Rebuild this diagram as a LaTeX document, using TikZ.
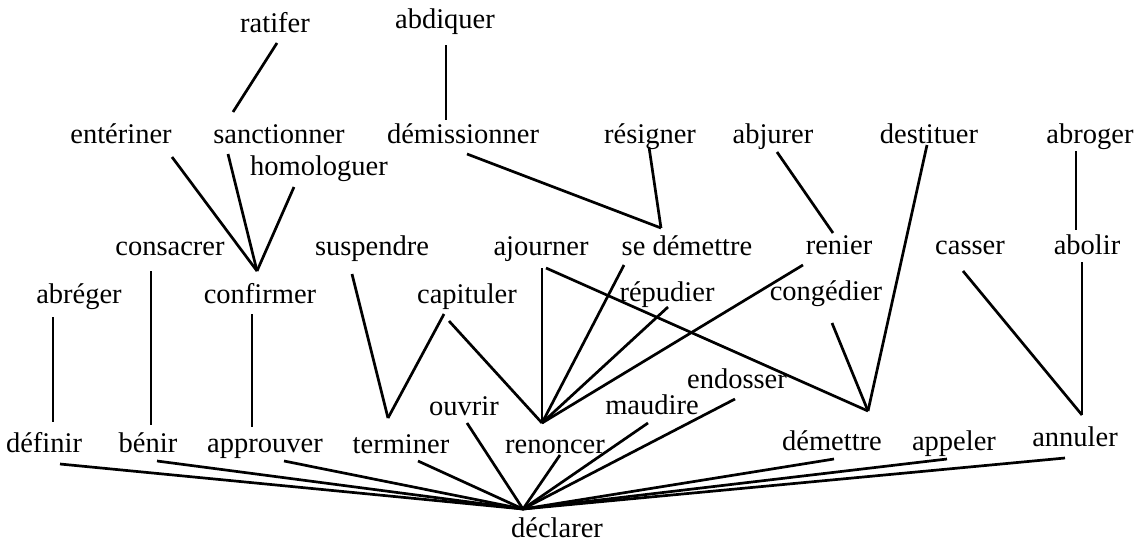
\documentclass[tikz,border=0pt]{standalone}
\usepackage{fontspec}
\setmainfont{Liberation Serif}
\begin{document}
\begin{tikzpicture}[x=1pt,y=-1pt,
  word/.style={anchor=base,inner sep=0pt,font=\fontsize{28.5}{30}\selectfont},
  link/.style={line width=2.7pt}]
\useasboundingbox (0,0) rectangle (1146,549);
% words
\node[word] (ratifer) at (275,32) {ratifer};
\node[word] (abdiquer) at (445,28) {abdiquer};
\node[word] (enteriner) at (121,143) {entériner};
\node[word] (sanctionner) at (279,143) {sanctionner};
\node[word] (homologuer) at (319,175) {homologuer};
\node[word] (demissionner) at (463,143) {démissionner};
\node[word] (resigner) at (650,143) {résigner};
\node[word] (abjurer) at (773,143) {abjurer};
\node[word] (destituer) at (929,143) {destituer};
\node[word] (abroger) at (1090,143) {abroger};
\node[word] (consacrer) at (170,255) {consacrer};
\node[word] (suspendre) at (372,255) {suspendre};
\node[word] (ajourner) at (541,255) {ajourner};
\node[word] (sedemettre) at (687,255) {se démettre};
\node[word] (renier) at (839,254) {renier};
\node[word] (casser) at (970,254) {casser};
\node[word] (abolir) at (1087,254) {abolir};
\node[word] (abreger) at (79,303) {abréger};
\node[word] (confirmer) at (260,303) {confirmer};
\node[word] (capituler) at (467,303) {capituler};
\node[word] (repudier) at (667,301) {répudier};
\node[word] (congedier) at (826,300) {congédier};
\node[word] (endosser) at (737,388) {endosser};
\node[word] (ouvrir) at (464,415) {ouvrir};
\node[word] (maudire) at (652,414) {maudire};
\node[word] (definir) at (44,452) {définir};
\node[word] (benir) at (148,452) {bénir};
\node[word] (approuver) at (265,452) {approuver};
\node[word] (terminer) at (401,453) {terminer};
\node[word] (renoncer) at (555,453) {renoncer};
\node[word] (demettre) at (832,450) {démettre};
\node[word] (appeler) at (954,450) {appeler};
\node[word] (annuler) at (1075,446) {annuler};
\node[word] (declarer) at (557,537) {déclarer};
% junctions
\coordinate (jconf) at (257,271);
\coordinate (jterm) at (388,418);
\coordinate (jren) at (542,423);
\coordinate (jsed) at (661,228);
\coordinate (jdem) at (868,411);
\coordinate (jann) at (1082,415);
\coordinate (jdecl) at (523,509);
% connector ends
\coordinate (ratiferB) at (277,43);
\coordinate (sanctionnerT) at (233,112);
\coordinate (abdiquerB) at (446,45);
\coordinate (demissionnerT) at (446,120);
\coordinate (enterinerB) at (172,157);
\coordinate (sanctionnerB) at (228,154);
\coordinate (homologuerB) at (294,187);
\coordinate (demissionnerB) at (467,154);
\coordinate (resignerB) at (649,147);
\coordinate (abjurerB) at (777,152);
\coordinate (renierT) at (833,233);
\coordinate (destituerB) at (927,145);
\coordinate (abrogerB) at (1076,151);
\coordinate (abolirT) at (1076,230);
\coordinate (consacrerB) at (151,271);
\coordinate (benirT) at (151,425);
\coordinate (abolirB) at (1082,262);
\coordinate (casserB) at (963,271);
\coordinate (suspendreB) at (352,274);
\coordinate (capitulerBL) at (444,314);
\coordinate (capitulerBR) at (449,321);
\coordinate (ajournerB) at (542,268);
\coordinate (ajournerBR) at (546,268);
\coordinate (sedemettreB) at (624,265);
\coordinate (repudierB) at (668,307);
\coordinate (renierB) at (803,265);
\coordinate (congedierB) at (832,323);
\coordinate (abregerB) at (53,317);
\coordinate (definirT) at (53,422);
\coordinate (confirmerB) at (252,314);
\coordinate (approuverT) at (252,427);
\coordinate (definirB) at (60,464);
\coordinate (benirB) at (157,461);
\coordinate (approuverB) at (284,461);
\coordinate (terminerB) at (418,461);
\coordinate (ouvrirB) at (467,423);
\coordinate (renoncerB) at (560,455);
\coordinate (maudireB) at (648,423);
\coordinate (endosserB) at (735,399);
\coordinate (demettreB) at (834,459);
\coordinate (appelerB) at (947,459);
\coordinate (annulerB) at (1065,458);
% connectors
\draw[link] (ratiferB) -- (sanctionnerT);
\draw[link] (abdiquerB) -- (demissionnerT);
\draw[link] (enterinerB) -- (jconf);
\draw[link] (sanctionnerB) -- (jconf);
\draw[link] (homologuerB) -- (jconf);
\draw[link] (demissionnerB) -- (jsed);
\draw[link] (resignerB) -- (jsed);
\draw[link] (abjurerB) -- (renierT);
\draw[link] (destituerB) -- (jdem);
\draw[link] (abrogerB) -- (abolirT);
\draw[link] (consacrerB) -- (benirT);
\draw[link] (abolirB) -- (jann);
\draw[link] (casserB) -- (jann);
\draw[link] (suspendreB) -- (jterm);
\draw[link] (capitulerBL) -- (jterm);
\draw[link] (capitulerBR) -- (jren);
\draw[link] (ajournerB) -- (jren);
\draw[link] (ajournerBR) -- (jdem);
\draw[link] (sedemettreB) -- (jren);
\draw[link] (repudierB) -- (jren);
\draw[link] (renierB) -- (jren);
\draw[link] (congedierB) -- (jdem);
\draw[link] (abregerB) -- (definirT);
\draw[link] (confirmerB) -- (approuverT);
\draw[link] (definirB) -- (jdecl);
\draw[link] (benirB) -- (jdecl);
\draw[link] (approuverB) -- (jdecl);
\draw[link] (terminerB) -- (jdecl);
\draw[link] (ouvrirB) -- (jdecl);
\draw[link] (renoncerB) -- (jdecl);
\draw[link] (maudireB) -- (jdecl);
\draw[link] (endosserB) -- (jdecl);
\draw[link] (demettreB) -- (jdecl);
\draw[link] (appelerB) -- (jdecl);
\draw[link] (annulerB) -- (jdecl);
\end{tikzpicture}
\end{document}
